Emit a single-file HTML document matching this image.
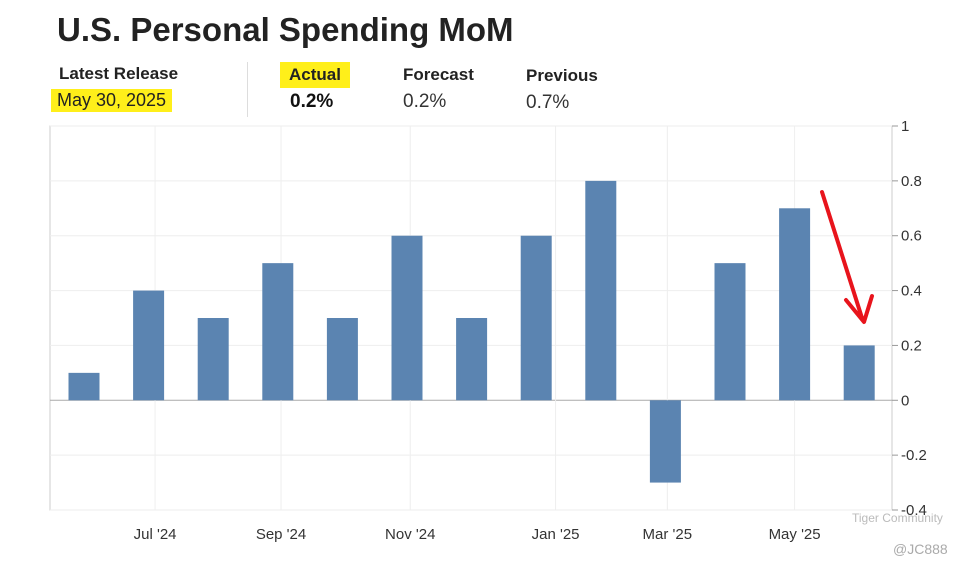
<!DOCTYPE html>
<html><head><meta charset="utf-8"><style>
body{margin:0;width:970px;height:572px;background:#fff;font-family:"Liberation Sans",Arial,sans-serif;position:relative;overflow:hidden}
.t{position:absolute;white-space:nowrap}
</style></head><body>
<div class="t" style="left:57px;top:11px;font-size:33px;font-weight:bold;color:#222">U.S. Personal Spending MoM</div>
<div class="t" style="left:59px;top:64px;font-size:17px;font-weight:bold;color:#222">Latest Release</div>
<div class="t" style="left:51px;top:89px;font-size:18px;color:#222;background:#ffef1a;padding:1px 6px">May 30, 2025</div>
<div style="position:absolute;left:247px;top:62px;width:1px;height:55px;background:#ddd"></div>
<div class="t" style="left:280px;top:62px;font-size:17px;font-weight:bold;color:#222;background:#ffef1a;padding:3px 9px">Actual</div>
<div class="t" style="left:290px;top:91px;font-size:19px;font-weight:bold;color:#111">0.2%</div>
<div class="t" style="left:403px;top:65px;font-size:17px;font-weight:bold;color:#222">Forecast</div>
<div class="t" style="left:403px;top:91px;font-size:19px;color:#333">0.2%</div>
<div class="t" style="left:526px;top:66px;font-size:17px;font-weight:bold;color:#222">Previous</div>
<div class="t" style="left:526px;top:92px;font-size:19px;color:#333">0.7%</div>
<svg id="c" width="970" height="572" style="position:absolute;left:0;top:0"></svg>
<div class="t" style="left:852px;top:511px;font-size:12px;color:#bbb">Tiger Community</div>
<div class="t" style="left:893px;top:541px;font-size:14px;color:#aaa">@JC888</div>
<script>
const categories=["May '24","Jun '24","Jul '24","Aug '24","Sep '24","Oct '24","Nov '24","Dec '24","Jan '25","Feb '25","Mar '25","Apr '25","May '25"];
const values=[0.1,0.4,0.3,0.5,0.3,0.6,0.3,0.6,0.8,-0.3,0.5,0.7,0.2];
const yTicks=[1,0.8,0.6,0.4,0.2,0,-0.2,-0.4];
const yTickLabels=["1","0.8","0.6","0.4","0.2","0","-0.2","-0.4"];
const xLabels=["Jul '24","Sep '24","Nov '24","Jan '25","Mar '25","May '25"];
const xLabelIdx=[1.1,3.05,5.05,7.3,9.03,11.0];
const NS="http://www.w3.org/2000/svg";
const svg=document.getElementById('c');
const L=50,R=892,T=126,B=510,yMin=-0.4,yMax=1;
const y=v=>T+(yMax-v)/(yMax-yMin)*(B-T);
const x0=84,step=64.6;
const x=i=>x0+i*step;
function mk(tag,a){const e=document.createElementNS(NS,tag);for(const k in a)e.setAttribute(k,a[k]);svg.appendChild(e);return e;}
let bg=mk('rect',{x:L,y:T,width:R-L,height:B-T,fill:'#fff',stroke:'#ccc'});


yTicks.forEach((v,i)=>{
 const g=mk('line',{x1:L,x2:R,y1:y(v),y2:y(v),stroke:v===0?'#aaa':'#eee','stroke-width':1});
 
 
 const tk=mk('line',{x1:R,x2:R+6,y1:y(v),y2:y(v),stroke:'#999'});
 
 
 const t=mk('text',{x:R+9,y:y(v)+5,'font-size':15,fill:'#333'});
 t.textContent=yTickLabels[i];
 
 
});
xLabels.forEach((s,i)=>{
 const px=x(xLabelIdx[i]);
 const g=mk('line',{x1:px,x2:px,y1:T,y2:B,stroke:'#eee'});
 
 
 const t=mk('text',{x:px,y:539,'font-size':15,fill:'#333','text-anchor':'middle'});
 t.textContent=s;
 
 
});
values.forEach((v,i)=>{
 const top=Math.min(y(v),y(0)),h=Math.abs(y(v)-y(0));
 const b=mk('rect',{x:x(i)-15.5,y:top,width:31,height:h,fill:'#5b84b1'});
 
 
});
const a=mk('path',{d:'M822 192 L862 318 M846 300 L864 322 L872 296',stroke:'#e8141c','stroke-width':4,fill:'none','stroke-linecap':'round','stroke-linejoin':'round'});


</script>
</body></html>
